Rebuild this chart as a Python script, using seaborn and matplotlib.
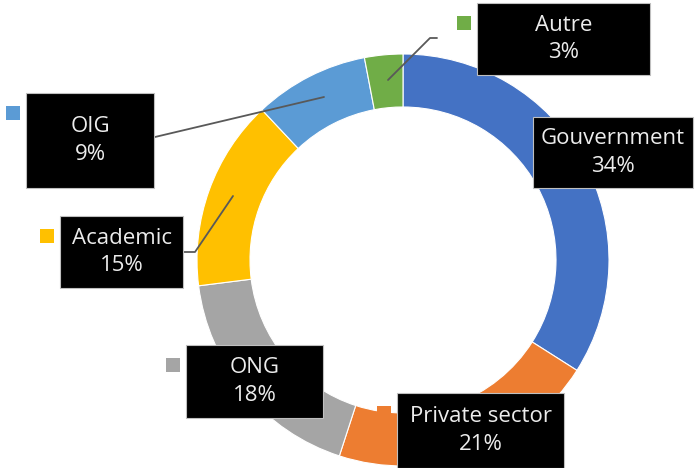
import seaborn as sns
import matplotlib.pyplot as plt
from matplotlib.patches import Rectangle

sns.set_theme(style="white")
plt.rcParams['font.family'] = ['Open Sans', 'DejaVu Sans']

categories = ["Gouvernment", "Private sector", "ONG", "Academic", "OIG", "Autre"]
shares = [34, 21, 18, 15, 9, 3]
colors = ["#4472C4", "#ED7D31", "#A5A5A5", "#FFC000", "#5B9BD5", "#70AD47"]

# label boxes in pixel coords (left, top, right, bottom)
boxes = {
    "Autre": (477, 3, 650, 75),
    "Gouvernment": (533, 117, 693, 188),
    "OIG": (26, 93, 154, 188),
    "Academic": (60, 216, 183, 288),
    "ONG": (186, 345, 323, 418),
    "Private sector": (397, 393, 564, 468),
}

W, H = 696, 468
fig = plt.figure(figsize=(W / 100, H / 100), dpi=100)
ax = fig.add_axes([0, 0, 1, 1])


def fy(y):
    return H - y


ax.pie(shares, colors=colors, startangle=90, counterclock=False,
       center=(403, fy(260)), radius=206, frame=True,
       wedgeprops=dict(width=53, edgecolor="white", linewidth=0.8))
ax.set_xlim(0, W)
ax.set_ylim(0, H)
ax.axis("off")

# leader lines
line_kw = dict(color="#595959", lw=1.3, zorder=3)
ax.plot([388, 430, 437], [fy(80), fy(38), fy(38)], **line_kw)
ax.plot([324, 155], [fy(97), fy(137)], **line_kw)
ax.plot([233, 195, 183], [fy(196), fy(252), fy(252)], **line_kw)

for name, pct, col in zip(categories, shares, colors):
    l, t, r, b = boxes[name]
    ax.add_patch(Rectangle((l, fy(b)), r - l, b - t, facecolor="black",
                           edgecolor="#bfbfbf", lw=0.8, zorder=4))
    ax.add_patch(Rectangle((l - 20, fy(t + 27)), 14, 14, facecolor=col,
                           edgecolor="none", zorder=4))
    ax.text((l + r) / 2, fy((t + b) / 2), f"{name}\n{pct}%", color="#ececec",
            ha="center", va="center", fontsize=16, linespacing=1.4, zorder=5)

fig.savefig("out.png", dpi=100)
